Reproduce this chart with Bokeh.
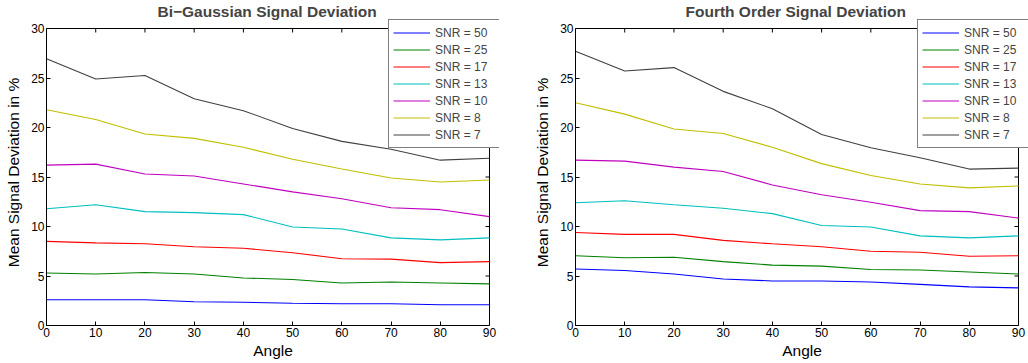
import math
from bokeh.plotting import figure
from bokeh.layouts import row
from bokeh.models import Range1d, FixedTicker
from bokeh.embed import file_html
from bokeh.resources import INLINE

angles = [0, 10, 20, 30, 40, 50, 60, 70, 80, 90]
y_ticks = [0, 5, 10, 15, 20, 25, 30]
snr_labels = ["SNR = 50", "SNR = 25", "SNR = 17", "SNR = 13", "SNR = 10", "SNR = 8", "SNR = 7"]
colors = ["#0000FF", "#008000", "#FF0000", "#00BFBF", "#BF00BF", "#BFBF00", "#404040"]

# Bi-Gaussian signal deviation (%)
bg_snr50 = [2.6, 2.6, 2.6, 2.4, 2.35, 2.25, 2.2, 2.2, 2.1, 2.1]
bg_snr25 = [5.3, 5.2, 5.35, 5.2, 4.8, 4.65, 4.3, 4.4, 4.3, 4.2]
bg_snr17 = [8.5, 8.35, 8.25, 7.95, 7.8, 7.35, 6.75, 6.7, 6.35, 6.45]
bg_snr13 = [11.8, 12.2, 11.5, 11.4, 11.2, 9.95, 9.75, 8.85, 8.65, 8.85]
bg_snr10 = [16.2, 16.3, 15.3, 15.1, 14.3, 13.5, 12.8, 11.9, 11.7, 11.0]
bg_snr8 = [21.8, 20.8, 19.35, 18.9, 18.0, 16.8, 15.8, 14.9, 14.5, 14.7]
bg_snr7 = [26.95, 24.9, 25.25, 22.9, 21.7, 19.9, 18.6, 17.8, 16.7, 16.9]

# Fourth order signal deviation (%)
fo_snr50 = [5.7, 5.55, 5.2, 4.7, 4.5, 4.5, 4.4, 4.15, 3.9, 3.8]
fo_snr25 = [7.05, 6.85, 6.9, 6.45, 6.1, 6.0, 5.65, 5.6, 5.4, 5.2]
fo_snr17 = [9.4, 9.2, 9.2, 8.6, 8.25, 7.95, 7.5, 7.4, 7.0, 7.05]
fo_snr13 = [12.4, 12.6, 12.2, 11.85, 11.3, 10.1, 9.95, 9.05, 8.85, 9.05]
fo_snr10 = [16.7, 16.6, 16.0, 15.55, 14.2, 13.2, 12.45, 11.6, 11.5, 10.85]
fo_snr8 = [22.5, 21.35, 19.85, 19.4, 18.0, 16.35, 15.15, 14.3, 13.9, 14.1]
fo_snr7 = [27.7, 25.7, 26.05, 23.65, 21.9, 19.3, 17.95, 16.95, 15.8, 15.9]

X_MIN, X_MAX = 0, 90
Y_MIN, Y_MAX = 0, 30
FONT = "Liberation Sans"

# Plot box is 443 x 297 px; the drawing area is extended so the legend,
# which pokes out of the box, is not clipped.
BOX_W, BOX_H = 443, 297
EXT_R, EXT_T = 10, 9
FRAME_W, FRAME_H = BOX_W + EXT_R, BOX_H + EXT_T


def style_axis(ax):
    ax.axis_line_color = "black"
    ax.axis_line_width = 1
    ax.major_tick_in = 4
    ax.major_tick_out = 0
    ax.minor_tick_line_color = None
    ax.major_tick_line_color = "black"
    ax.major_label_text_font = FONT
    ax.major_label_text_font_size = "12px"
    ax.major_label_text_color = "black"
    ax.major_label_standoff = 2
    ax.axis_label_text_font = FONT
    ax.axis_label_text_font_size = "15.5px"
    ax.axis_label_text_font_style = "normal"
    ax.axis_label_text_color = "black"


def make_panel(title, series, width, bl, br, title_offset):
    x_end = X_MAX + (X_MAX - X_MIN) * EXT_R / BOX_W
    y_end = Y_MAX + (Y_MAX - Y_MIN) * EXT_T / BOX_H
    p = figure(width=width, height=363, frame_width=FRAME_W, frame_height=FRAME_H,
               output_backend="svg", toolbar_location=None,
               x_range=Range1d(X_MIN, x_end), y_range=Range1d(Y_MIN, y_end),
               min_border_left=bl, min_border_right=br, min_border_top=18, min_border_bottom=39)
    p.title.text = title
    p.title.align = "left"
    p.title.offset = title_offset
    p.title.text_font = FONT
    p.title.text_font_size = "15.5px"
    p.title.text_font_style = "bold"
    p.title.standoff = 0
    p.grid.visible = False
    p.outline_line_color = None
    p.background_fill_color = "white"
    p.border_fill_color = "white"
    p.xaxis.ticker = FixedTicker(ticks=angles)
    p.yaxis.ticker = FixedTicker(ticks=y_ticks)
    p.xaxis.bounds = (X_MIN, X_MAX)
    p.yaxis.bounds = (Y_MIN, Y_MAX)
    p.xaxis.axis_label = "Angle"
    p.yaxis.axis_label = "Mean Signal Deviation in %"
    for ax in p.xaxis + p.yaxis:
        style_axis(ax)
    p.xaxis.axis_label_standoff = 2
    p.yaxis.axis_label_standoff = 6

    # top and right edges of the box, with inward ticks
    p.line([X_MIN, X_MAX], [Y_MAX, Y_MAX], line_color="black", line_width=1)
    p.line([X_MAX, X_MAX], [Y_MIN, Y_MAX], line_color="black", line_width=1)
    p.ray(x=angles, y=[Y_MAX] * len(angles), length=4, length_units="screen",
          angle=-math.pi / 2, line_color="black", line_width=1)
    p.ray(x=[X_MAX] * len(y_ticks), y=y_ticks, length=4, length_units="screen",
          angle=math.pi, line_color="black", line_width=1)

    for vals, c, lab in zip(series, colors, snr_labels):
        p.line(angles, vals, line_color=c, line_width=1.1, legend_label=lab)
    lg = p.legend[0]
    lg.location = (342, 177)
    lg.border_line_color = "black"
    lg.border_line_width = 1.3
    lg.background_fill_alpha = 1
    lg.label_text_font = FONT
    lg.label_text_font_size = "12px"
    lg.glyph_width = 37
    lg.glyph_height = 17
    lg.label_height = 17
    lg.label_width = 61
    lg.spacing = 0
    lg.padding = 4
    lg.margin = 0
    lg.label_standoff = 5
    return p


p1 = make_panel("Bi\u2212Gaussian Signal Deviation",
                [bg_snr50, bg_snr25, bg_snr17, bg_snr13, bg_snr10, bg_snr8, bg_snr7],
                520, 46, 21, 111)
p2 = make_panel("Fourth Order Signal Deviation",
                [fo_snr50, fo_snr25, fo_snr17, fo_snr13, fo_snr10, fo_snr8, fo_snr7],
                508, 55, 0, 110)

layout = row(p1, p2)
open("out.html", "w").write(file_html(layout, INLINE))
